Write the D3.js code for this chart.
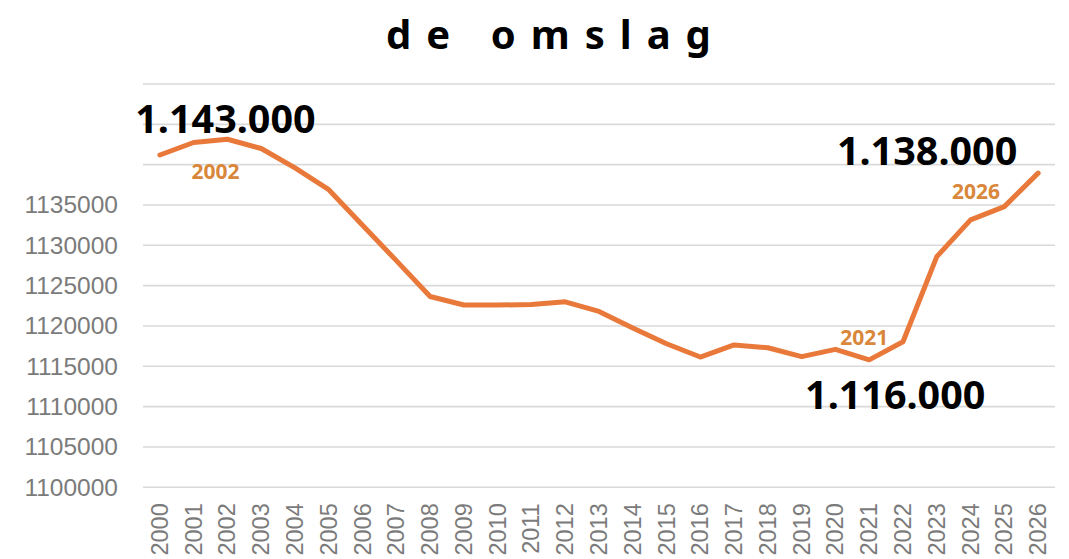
<!DOCTYPE html>
<html>
<head>
<meta charset="utf-8">
<script src="https://cdn.jsdelivr.net/npm/d3@7/dist/d3.min.js"></script>
<style>
  html, body { margin: 0; padding: 0; background: #ffffff; }
  svg { display: block; }
</style>
</head>
<body>
<script>
// ---- data ----
const title = "de omslag";
const years = ["2000","2001","2002","2003","2004","2005","2006","2007","2008","2009",
               "2010","2011","2012","2013","2014","2015","2016","2017","2018","2019",
               "2020","2021","2022","2023","2024","2025","2026"];
const population = [1141200, 1142750, 1143150, 1142000, 1139600, 1136900, 1132500, 1128100, 1123650, 1122600,
                    1122600, 1122650, 1123000, 1121800, 1119750, 1117800, 1116150, 1117650, 1117300, 1116200,
                    1117100, 1115800, 1118050, 1128600, 1133150, 1134800, 1138950];
const gridValues = [1100000,1105000,1110000,1115000,1120000,1125000,1130000,1135000,1140000,1145000,1150000];
const tickLabels = [1100000,1105000,1110000,1115000,1120000,1125000,1130000,1135000];
const bigLabelYears = ["2002", "2026", "2021"];
const bigLabelTexts = ["1.143.000", "1.138.000", "1.116.000"];
const yearLabelYears = ["2002", "2021", "2026"];

// ---- layout ----
const W = 1069, H = 559;
const svg = d3.select("body").append("svg").attr("width", W).attr("height", H);

const x = d3.scaleBand().domain(years).range([143, 1055]).padding(0);
const y = d3.scaleLinear().domain([1100000, 1150000]).range([487.3, 84]);
const cx = yr => x(yr) + x.bandwidth() / 2;
const valOf = yr => population[years.indexOf(yr)];

// title
svg.append("text")
  .attr("x", 556).attr("y", 49)
  .attr("text-anchor", "middle")
  .attr("font-family", "'Noto Sans', 'Open Sans', sans-serif")
  .attr("font-weight", "bold")
  .attr("font-size", 40)
  .attr("letter-spacing", 15)
  .attr("fill", "#000")
  .text(title);

// gridlines
svg.append("g").selectAll("line").data(gridValues).join("line")
  .attr("x1", 143).attr("x2", 1055)
  .attr("y1", d => y(d)).attr("y2", d => y(d))
  .attr("stroke", "#d9d9d9").attr("stroke-width", 1.6);

// y axis labels
const yAxis = d3.axisLeft(y).tickValues(tickLabels).tickSize(0).tickPadding(0).tickFormat(d3.format("d"));
const gy = svg.append("g").attr("transform", "translate(118,0)").call(yAxis);
gy.select(".domain").remove();
gy.selectAll("text")
  .attr("font-family", "'Liberation Sans', Arial, sans-serif")
  .attr("font-size", 24.5)
  .attr("fill", "#7b7b7b");

// x axis labels
const xAxis = d3.axisBottom(x).tickSize(0).tickPadding(0);
const gx = svg.append("g").attr("transform", "translate(0,487.3)").call(xAxis);
gx.select(".domain").remove();
gx.selectAll("text")
  .attr("font-family", "'Liberation Sans', Arial, sans-serif")
  .attr("font-size", 23.5)
  .attr("fill", "#7b7b7b")
  .attr("text-anchor", "end")
  .attr("transform", "translate(8,16) rotate(-90)")
  .attr("dy", 0).attr("y", 0).attr("x", 0);

// line
const line = d3.line()
  .x((d, i) => cx(years[i]))
  .y(d => y(d))
  .curve(d3.curveLinear);
svg.append("path")
  .datum(population)
  .attr("d", line)
  .attr("fill", "none")
  .attr("stroke", "#e9793a")
  .attr("stroke-width", 5)
  .attr("stroke-linejoin", "round")
  .attr("stroke-linecap", "round");

// big value annotations
const bigOffsets = [[-2, -6], [-111, -8], [26, 49]];
svg.append("g").selectAll("text").data(bigLabelYears).join("text")
  .attr("x", (d, i) => cx(d) + bigOffsets[i][0])
  .attr("y", (d, i) => y(valOf(d)) + bigOffsets[i][1])
  .attr("text-anchor", "middle")
  .attr("font-family", "'Noto Sans', 'Open Sans', sans-serif")
  .attr("font-weight", "bold")
  .attr("font-size", 39.5)
  .attr("fill", "#000")
  .text((d, i) => bigLabelTexts[i]);

// year annotations
const yrOffsets = [[-12, 40], [-5, -15], [-62, 26]];
svg.append("g").selectAll("text").data(yearLabelYears).join("text")
  .attr("x", (d, i) => cx(d) + yrOffsets[i][0])
  .attr("y", (d, i) => y(valOf(d)) + yrOffsets[i][1])
  .attr("text-anchor", "middle")
  .attr("font-family", "'Noto Sans', 'Open Sans', sans-serif")
  .attr("font-weight", "bold")
  .attr("font-size", 21)
  .attr("fill", "#d9873a")
  .text(d => d);
</script>
</body>
</html>
